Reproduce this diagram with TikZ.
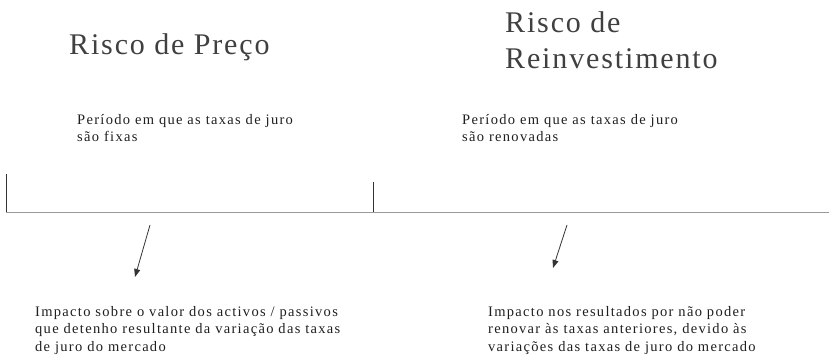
\documentclass[tikz,border=0pt]{standalone}
\usepackage{fontspec}
\setmainfont{Liberation Serif}
\newfontfamily\titlefont[LetterSpace=6.2]{Liberation Serif}
\newfontfamily\bodyfont[LetterSpace=9]{Liberation Serif}
\usetikzlibrary{arrows.meta}
\begin{document}
\begin{tikzpicture}[x=1pt,y=1pt,
  titletext/.style={anchor=base west,align=left,inner sep=0pt,text=black!75,
    font=\titlefont\fontsize{30}{36}\selectfont},
  bodytext/.style={anchor=base west,align=left,inner sep=0pt,text=black!88,
    font=\bodyfont\fontsize{14.5}{17.5}\selectfont},
  axis/.style={draw=black!40,line width=0.9pt},
  tick/.style={draw=black!80,line width=0.8pt},
  pointer/.style={draw=black!80,line width=0.8pt,-{Triangle[length=8pt,width=6pt]}}]
\useasboundingbox (0,0) rectangle (830,-358);
% titles (anchor = baseline of last line)
\node[titletext] (t1) at (69,-55) {Risco de Preço};
\node[titletext] (t2) at (505,-69) {Risco de\\Reinvestimento};
% period texts
\node[bodytext] (p1) at (77,-142) {Período em que as taxas de juro\\são fixas};
\node[bodytext] (p2) at (462,-142) {Período em que as taxas de juro\\são renovadas};
% timeline
\coordinate (a0) at (6,-212);
\coordinate (a1) at (373,-212);
\coordinate (a2) at (829,-212);
\coordinate (k0) at (6,-174);
\coordinate (k1) at (373,-182);
\draw[axis] (a0) -- (a2);
\draw[tick] (k0) -- (a0);
\draw[tick] (k1) -- (a1);
% impact texts
\node[bodytext] (i1) at (35,-351) {Impacto sobre o valor dos activos / passivos\\que detenho resultante da variação das taxas\\de juro do mercado};
\node[bodytext] (i2) at (488,-351) {Impacto nos resultados por não poder\\renovar às taxas anteriores, devido às\\variações das taxas de juro do mercado};
% arrows
\coordinate (s1) at (150,-225);
\coordinate (e1) at (135,-277);
\coordinate (s2) at (567,-225);
\coordinate (e2) at (553,-268);
\draw[pointer] (s1) -- (e1);
\draw[pointer] (s2) -- (e2);
\end{tikzpicture}
\end{document}
